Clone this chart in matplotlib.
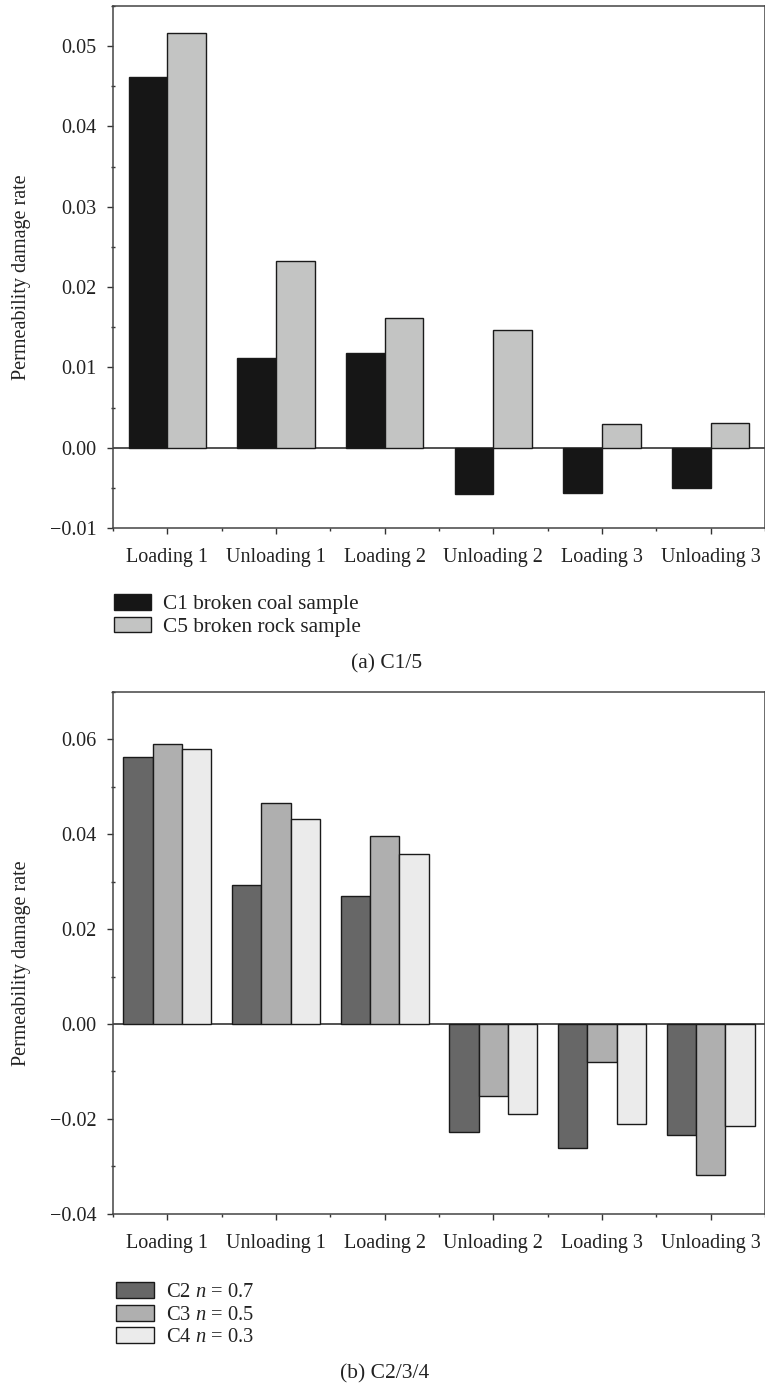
import numpy as np
import matplotlib
matplotlib.use('Agg')
import matplotlib.pyplot as plt
from matplotlib.ticker import MultipleLocator, FixedLocator

plt.rcParams['font.family'] = ['Liberation Serif', 'DejaVu Serif']
plt.rcParams['mathtext.fontset'] = 'custom'
plt.rcParams['mathtext.it'] = 'Liberation Serif:italic'
plt.rcParams['mathtext.rm'] = 'Liberation Serif'

# data
stages = ['Loading 1', 'Unloading 1', 'Loading 2', 'Unloading 2', 'Loading 3', 'Unloading 3']

c1_coal = [0.0462, 0.0112, 0.0118, -0.0058, -0.0057, -0.0050]
c5_rock = [0.0516, 0.0232, 0.0162, 0.0146, 0.0030, 0.0031]

c2_n07 = [0.0562, 0.0292, 0.0270, -0.0228, -0.0262, -0.0234]
c3_n05 = [0.0589, 0.0465, 0.0397, -0.0151, -0.0079, -0.0317]
c4_n03 = [0.0579, 0.0432, 0.0359, -0.0190, -0.0211, -0.0214]

labels_a = ['C1 broken coal sample', 'C5 broken rock sample']
labels_b = ['C2 $n$ = 0.7', 'C3 $n$ = 0.5', 'C4 $n$ = 0.3']

colors_a = ['#161616', '#c3c4c3']
colors_b = ['#676767', '#afafaf', '#ebebeb']

EDGE = '#1a1a1a'
TXT = '#222222'


def style_axes(ax, ymin, ymax, ystep):
    x = np.arange(len(stages))
    ax.set_xlim(-0.5, len(stages) - 0.5)
    ax.set_ylim(ymin, ymax)
    ax.set_xticks(x)
    ax.set_xticklabels(stages)
    ax.xaxis.set_minor_locator(FixedLocator(np.arange(len(stages) + 1) - 0.5))
    ax.yaxis.set_major_locator(MultipleLocator(ystep))
    ax.yaxis.set_minor_locator(MultipleLocator(ystep / 2))
    ax.yaxis.set_major_formatter(plt.FuncFormatter(lambda v, p: f'{v:.2f}'.replace('-', '\u2212')))
    ax.tick_params(axis='both', which='major', direction='out', length=4.5, width=1,
                   color='#333333', labelsize=14.5, labelcolor=TXT)
    ax.tick_params(axis='x', which='major', pad=10)
    ax.tick_params(axis='y', which='major', pad=7.5)
    ax.tick_params(axis='x', which='minor', direction='out', length=2.5, width=1, color='#333333')
    ax.tick_params(axis='y', which='minor', direction='inout', length=3, width=1, color='#333333')
    for s in ax.spines.values():
        s.set_color('#444444')
        s.set_linewidth(1.1)
    ax.axhline(0, color='#222222', lw=1.1, zorder=1)
    ax.set_ylabel('Permeability damage rate', fontsize=14.5, color=TXT)
    ax.yaxis.set_label_coords(-0.126, 0.48)


fig = plt.figure(figsize=(7.65, 13.88), dpi=100)

# (a) C1/5
ax1 = fig.add_axes([0.1477, 0.6196, 0.8523, 0.3761])
x = np.arange(len(stages))
w = 0.355
series_a = [c1_coal, c5_rock]
bars_a = []
for i, (vals, col) in enumerate(zip(series_a, colors_a)):
    b = ax1.bar(x + (i - 0.5) * w, vals, w, color=col, edgecolor=EDGE, linewidth=1, zorder=2)
    bars_a.append(b)
style_axes(ax1, -0.01, 0.055, 0.01)

fig.legend(bars_a, labels_a, loc='upper left', bbox_to_anchor=(0.135, 0.5795),
           frameon=False, fontsize=15.3, handlelength=1.75, handleheight=0.75,
           labelspacing=0.1, handletextpad=0.55, borderpad=0, labelcolor=TXT)
fig.text(0.505, 0.5216, '(a) C1/5', ha='center', va='center', fontsize=15.5, color=TXT)

# (b) C2/3/4
ax2 = fig.add_axes([0.1477, 0.1254, 0.8523, 0.3763])
w = 0.27
series_b = [c2_n07, c3_n05, c4_n03]
bars_b = []
for i, (vals, col) in enumerate(zip(series_b, colors_b)):
    b = ax2.bar(x + (i - 1) * w, vals, w, color=col, edgecolor=EDGE, linewidth=1, zorder=2)
    bars_b.append(b)
style_axes(ax2, -0.04, 0.07, 0.02)

fig.legend(bars_b, labels_b, loc='upper left', bbox_to_anchor=(0.138, 0.0835),
           frameon=False, fontsize=14.8, handlelength=1.85, handleheight=0.8,
           labelspacing=0.12, handletextpad=0.6, borderpad=0, labelcolor=TXT)
fig.text(0.503, 0.0101, '(b) C2/3/4', ha='center', va='center', fontsize=15.5, color=TXT)

fig.savefig('out.png', dpi=100)
